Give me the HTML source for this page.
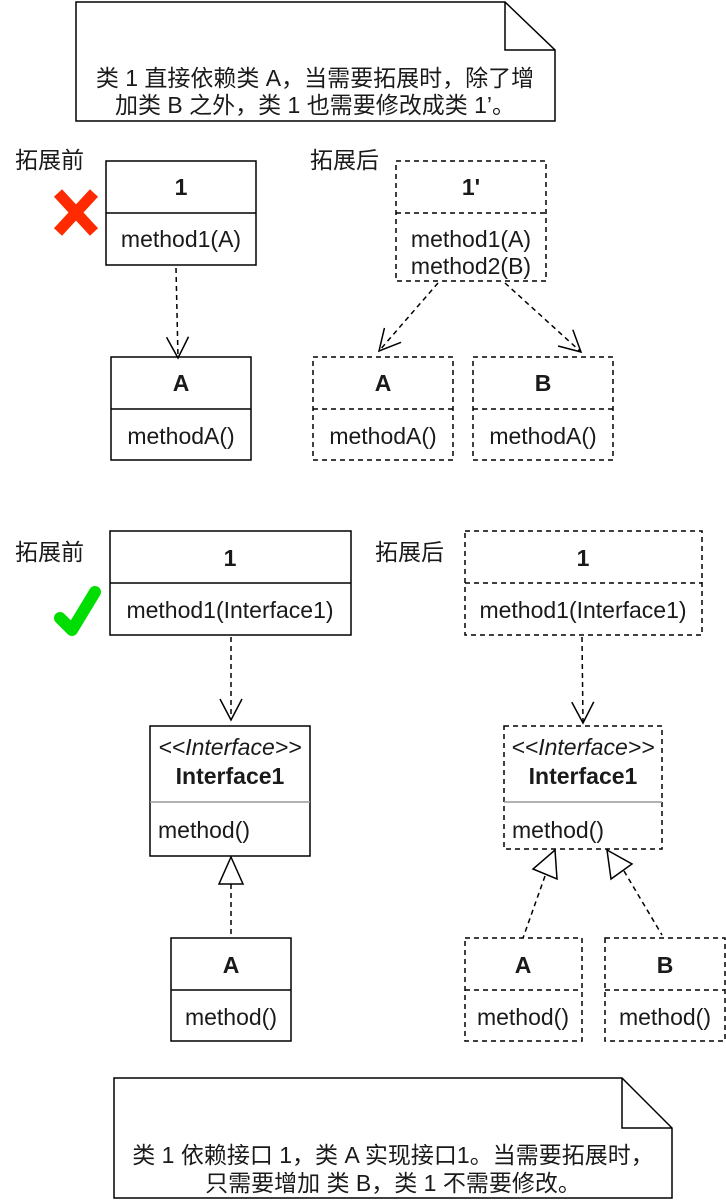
<!DOCTYPE html>
<html><head><meta charset="utf-8"><style>
html,body{margin:0;padding:0;background:#fff;}
svg{display:block;}
text{font-family:"Liberation Sans","Noto Sans CJK SC",sans-serif;font-size:23px;fill:#1a1a1a;}
.b{font-weight:bold;}
</style></head><body>
<svg width="726" height="1200" viewBox="0 0 726 1200">
<defs>
<marker id="open" markerWidth="30" markerHeight="30" refX="22" refY="12" orient="auto" markerUnits="userSpaceOnUse">
<path d="M1,1 L22,12 L1,23" fill="none" stroke="#000" stroke-width="1.5"/>
</marker>
</defs>
<g stroke="#000" stroke-width="1.5" fill="none">
<path d="M76,2 H505 L555,50 V121 H76 Z" fill="#fff"/>
<path d="M505,2 V50 H555"/>
<rect x="106" y="161" width="150" height="104" fill="#fff"/><line x1="106" y1="213" x2="256" y2="213"/>
<line x1="176" y1="268" x2="178" y2="358" stroke-dasharray="5,4" marker-end="url(#open)"/>
<rect x="111" y="357" width="140" height="103"/><line x1="111" y1="409" x2="251" y2="409"/>
<g stroke-dasharray="5,4">
<rect x="396" y="161" width="150" height="120"/><line x1="396" y1="213" x2="546" y2="213"/>
<rect x="313" y="357" width="140" height="103"/><line x1="313" y1="409" x2="453" y2="409"/>
<rect x="473" y="357" width="140" height="103"/><line x1="473" y1="409" x2="613" y2="409"/>
<line x1="438" y1="283" x2="379" y2="351" marker-end="url(#open)"/>
<line x1="505" y1="283" x2="581" y2="352" marker-end="url(#open)"/>
</g>
<rect x="110" y="531" width="241" height="104"/><line x1="110" y1="583" x2="351" y2="583"/>
<line x1="231" y1="637" x2="231" y2="720" stroke-dasharray="5,4" marker-end="url(#open)"/>
<rect x="150" y="726" width="160" height="130"/>
<line x1="150" y1="802" x2="310" y2="802" stroke="#999"/>
<path d="M231,857 L243,884 L219,884 Z"/>
<line x1="231" y1="884" x2="231" y2="938" stroke-dasharray="5,4"/>
<rect x="171" y="938" width="120" height="103"/><line x1="171" y1="990" x2="291" y2="990"/>
<g stroke-dasharray="5,4">
<rect x="465" y="531" width="237" height="104"/><line x1="465" y1="583" x2="702" y2="583"/>
<line x1="582" y1="637" x2="583" y2="723" marker-end="url(#open)"/>
<rect x="504" y="726" width="158" height="123"/>
<line x1="545" y1="876" x2="523" y2="938"/>
<line x1="624" y1="871" x2="662" y2="935"/>
<rect x="465" y="938" width="117" height="103"/><line x1="465" y1="990" x2="582" y2="990"/>
<rect x="605" y="938" width="120" height="103"/><line x1="605" y1="990" x2="725" y2="990"/>
</g>
<line x1="504" y1="802" x2="662" y2="802" stroke="#999"/>
<path d="M555,850 L557,879 L533,869 Z"/>
<path d="M607,850 L632,864 L611,879 Z"/>
<path d="M114,1078 H622 L672,1128 V1198 H114 Z"/>
<path d="M622,1078 V1128 H672"/>
</g>
<g stroke="#ff2a00" stroke-width="11" stroke-linecap="butt">
<line x1="58" y1="193" x2="94" y2="232"/><line x1="94" y1="193" x2="58" y2="232"/>
</g>
<path d="M60,618 L72,630 L95,592" stroke="#00dd00" stroke-width="12" fill="none" stroke-linecap="round" stroke-linejoin="round"/>
<text x="315" y="86" text-anchor="middle">类 1 直接依赖类 A，当需要拓展时，除了增</text>
<text x="315" y="113" text-anchor="middle">加类 B 之外，类 1 也需要修改成类 1’。</text>
<text x="15" y="168">拓展前</text>
<text x="181" y="195" text-anchor="middle" class="b">1</text>
<text x="181" y="247" text-anchor="middle">method1(A)</text>
<text x="181" y="391" text-anchor="middle" class="b">A</text>
<text x="181" y="444" text-anchor="middle">methodA()</text>
<text x="310" y="168">拓展后</text>
<text x="471" y="195" text-anchor="middle" class="b">1'</text>
<text x="471" y="247" text-anchor="middle">method1(A)</text>
<text x="471" y="274" text-anchor="middle">method2(B)</text>
<text x="383" y="391" text-anchor="middle" class="b">A</text>
<text x="383" y="444" text-anchor="middle">methodA()</text>
<text x="543" y="391" text-anchor="middle" class="b">B</text>
<text x="543" y="444" text-anchor="middle">methodA()</text>
<text x="15" y="560">拓展前</text>
<text x="230" y="566" text-anchor="middle" class="b">1</text>
<text x="230" y="618" text-anchor="middle">method1(Interface1)</text>
<text x="230" y="755" text-anchor="middle" font-style="italic">&lt;&lt;Interface&gt;&gt;</text>
<text x="230" y="784" text-anchor="middle" class="b">Interface1</text>
<text x="158" y="838">method()</text>
<text x="231" y="973" text-anchor="middle" class="b">A</text>
<text x="231" y="1025" text-anchor="middle">method()</text>
<text x="375" y="560">拓展后</text>
<text x="583" y="566" text-anchor="middle" class="b">1</text>
<text x="583" y="618" text-anchor="middle">method1(Interface1)</text>
<text x="583" y="755" text-anchor="middle" font-style="italic">&lt;&lt;Interface&gt;&gt;</text>
<text x="583" y="784" text-anchor="middle" class="b">Interface1</text>
<text x="512" y="838">method()</text>
<text x="523" y="973" text-anchor="middle" class="b">A</text>
<text x="523" y="1025" text-anchor="middle">method()</text>
<text x="665" y="973" text-anchor="middle" class="b">B</text>
<text x="665" y="1025" text-anchor="middle">method()</text>
<text x="393" y="1163" text-anchor="middle">类 1 依赖接口 1，类 A 实现接口1。当需要拓展时，</text>
<text x="393" y="1191" text-anchor="middle">只需要增加 类 B，类 1 不需要修改。</text>
</svg>
</body></html>
